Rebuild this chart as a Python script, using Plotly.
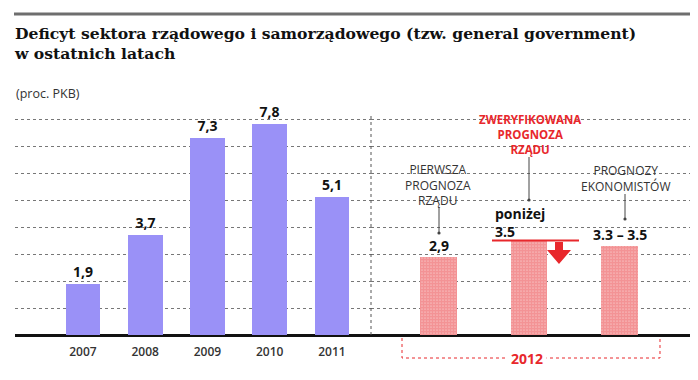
import plotly.graph_objects as go

# ---------------- data ----------------
years = ["2007", "2008", "2009", "2010", "2011"]
deficit = [1.9, 3.7, 7.3, 7.8, 5.1]

forecast_names = ["Pierwsza prognoza rządu", "Zweryfikowana prognoza rządu", "Prognozy ekonomistów"]
forecast_values = [2.9, 3.5, 3.3]
forecast_labels = ["2,9", "poniżej<br>3.5", "3.3 – 3.5"]
forecast_year = "2012"

label_first = "PIERWSZA<br>PROGNOZA<br>RZĄDU"
label_verified = "ZWERYFIKOWANA<br>PROGNOZA<br>RZĄDU"
label_economists = "PROGNOZY<br>EKONOMISTÓW"

title_text = "Deficyt sektora rządowego i samorządowego (tzw. general government)<br>w ostatnich latach"
unit_text = "(proc. PKB)"

PURPLE = "#9a91f7"
RED = "#e8282c"

# page renders with an 8px body margin -> compensate
OFF = 8
W, H = 698 - OFF, 380 - OFF
L, R, T, B = 15 - OFF, 0, 111 - OFF, 45
PW, PH = W - L - R, H - T - B


def px(X):
    return (X - OFF - L) / PW


def py(Y):
    return (H - B - (Y - OFF)) / PH


fig = go.Figure()

fig.add_trace(go.Bar(
    x=years, y=deficit, xaxis="x", yaxis="y",
    marker=dict(color=PURPLE, line=dict(width=0)),
    width=0.56,
    text=[f"{v:.1f}".replace(".", ",") for v in deficit],
    textposition="outside",
    textfont=dict(family="Open Sans", size=14, color="#111", weight="bold"),
    cliponaxis=False,
    hoverinfo="skip",
))

fig.add_trace(go.Bar(
    x=forecast_names, y=forecast_values, xaxis="x2", yaxis="y",
    marker=dict(color=RED, line=dict(width=0),
                pattern=dict(shape=".", fgcolor=RED, bgcolor="white", size=3, solidity=0.85)),
    width=0.4,
    hoverinfo="skip",
))

annotations = []
shapes = []

# top gray rule
shapes.append(dict(type="line", xref="paper", yref="paper", x0=px(14), x1=1.0, y0=py(14), y1=py(14),
                   line=dict(color="#6e6e6e", width=3), layer="above"))

# title & unit
annotations.append(dict(xref="paper", yref="paper", x=px(12), y=py(43), xanchor="left", yanchor="middle",
                        text=f"<b>{title_text}</b>", showarrow=False, align="left",
                        font=dict(family="DejaVu Serif", size=15.6, color="#111")))
annotations.append(dict(xref="paper", yref="paper", x=px(14), y=py(93), xanchor="left", yanchor="middle",
                        text=unit_text, showarrow=False,
                        font=dict(family="Open Sans", size=12.5, color="#333")))

# vertical dotted separator
shapes.append(dict(type="line", xref="paper", yref="paper", x0=px(371), x1=px(371), y0=0, y1=py(115),
                   line=dict(color="#555", width=1, dash="dot")))

# forecast labels
lab_font = dict(family="Open Sans", size=12, color="#333")
red_font = dict(family="Open Sans", size=11.5, color=RED, weight="bold")
annotations.append(dict(xref="paper", yref="paper", x=px(438), y=py(185), text=label_first,
                        showarrow=False, font=lab_font, xanchor="center", yanchor="middle"))
annotations.append(dict(xref="paper", yref="paper", x=px(530), y=py(134), text=label_verified,
                        showarrow=False, font=red_font, xanchor="center", yanchor="middle"))
annotations.append(dict(xref="paper", yref="paper", x=px(625), y=py(178), text=label_economists,
                        showarrow=False, font=lab_font, xanchor="center", yanchor="middle"))

# connector lines with dots
for X, Y0, Y1 in [(439, 207, 233), (529, 157, 200), (625, 194, 219)]:
    shapes.append(dict(type="line", xref="paper", yref="paper", x0=px(X), x1=px(X), y0=py(Y0), y1=py(Y1),
                       line=dict(color="#444", width=1)))
    shapes.append(dict(type="circle", xref="paper", yref="paper", x0=px(X - 1.6), x1=px(X + 1.6),
                       y0=py(Y1 - 1.6), y1=py(Y1 + 1.6), fillcolor="#444", line=dict(width=0)))

# value labels for forecasts
val_font = dict(family="Open Sans", size=14, color="#111", weight="bold")
annotations.append(dict(xref="x2", yref="y", x=forecast_names[0], y=forecast_values[0], yshift=11,
                        text=forecast_labels[0], showarrow=False, font=val_font,
                        xanchor="center", yanchor="middle"))
annotations.append(dict(xref="paper", yref="paper", x=px(493), y=py(222), xanchor="left", align="left",
                        text=forecast_labels[1], showarrow=False, font=val_font, yanchor="middle"))
annotations.append(dict(xref="x2", yref="y", x=forecast_names[2], y=forecast_values[2], yshift=11,
                        text=forecast_labels[2], showarrow=False, font=val_font,
                        xanchor="center", yanchor="middle"))

# red "below" line at 3.5 and down arrow
shapes.append(dict(type="line", xref="paper", yref="y", x0=px(492), x1=px(579),
                   y0=forecast_values[1], y1=forecast_values[1], line=dict(color=RED, width=2)))
cx = 559
pts = [(cx - 4, 242), (cx + 4, 242), (cx + 4, 250), (cx + 12, 250), (cx, 264), (cx - 12, 250), (cx - 4, 250)]
path = "M " + " L ".join(f"{px(x):.5f},{py(y):.5f}" for x, y in pts) + " Z"
shapes.append(dict(type="path", xref="paper", yref="paper", path=path, fillcolor=RED, line=dict(width=0)))

# 2012 bracket
bpts = [(402, 338), (402, 358), (660, 358), (660, 338)]
bpath = "M " + " L ".join(f"{px(x):.5f},{py(y):.5f}" for x, y in bpts)
shapes.append(dict(type="path", xref="paper", yref="paper", path=bpath,
                   line=dict(color=RED, width=1, dash="dot")))
annotations.append(dict(xref="paper", yref="paper", x=px(527), y=py(358), text=forecast_year,
                        showarrow=False, bgcolor="white", borderpad=3,
                        font=dict(family="Open Sans", size=14, color=RED, weight="bold"),
                        xanchor="center", yanchor="middle"))

fig.update_layout(
    width=W, height=H,
    margin=dict(l=L, r=R, t=T, b=B),
    paper_bgcolor="white", plot_bgcolor="white",
    showlegend=False,
    bargap=0,
    xaxis=dict(domain=[0, px(371)], range=[-1.092, 4.627], showgrid=False, zeroline=False,
               showline=False, ticks="", ticklabelstandoff=8,
               tickfont=dict(family="Open Sans", size=12, color="#333", weight=600), fixedrange=True),
    xaxis2=dict(domain=[px(371), 1], range=[-0.746, 2.867], anchor="y", showgrid=False, zeroline=False,
                showline=False, showticklabels=False, ticks=""),
    yaxis=dict(range=[0, 8.3], dtick=1, showgrid=True, gridcolor="#777", griddash="dot", gridwidth=1,
               zeroline=True, zerolinecolor="#111", zerolinewidth=3, showticklabels=False, ticks=""),
    annotations=annotations,
    shapes=shapes,
)

fig.write_html("out.html")
